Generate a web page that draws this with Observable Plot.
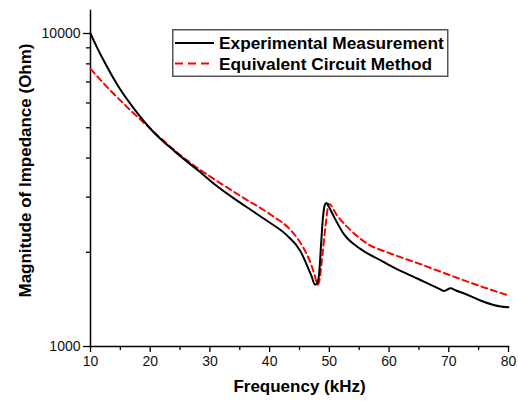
<!DOCTYPE html>
<html><head><meta charset="utf-8">
<script src="https://cdn.jsdelivr.net/npm/d3@7"></script>
<script src="https://cdn.jsdelivr.net/npm/@observablehq/plot@0.6"></script>
<style>
body{margin:0;background:#fff;}
#wrap{position:relative;width:518px;height:401px;font-family:"Liberation Sans",Arial,sans-serif;}
#legend{position:absolute;left:172px;top:29px;}
</style>
</head><body>
<div id="wrap"><div id="chart"></div><div id="legend"></div></div>
<script>
const seriesNames = ["Experimental Measurement", "Equivalent Circuit Method"];
const freqExp = [10, 11, 12.5, 14.75, 17.5, 20.3, 24.2, 28.1, 31, 34, 37, 39.6, 42.9, 45.2, 46.4, 47.0, 47.6, 48.0, 48.3, 48.6, 48.9, 49.2, 49.5, 49.8, 50.8, 52.4, 55.2, 58.6, 60.5, 65, 68.5, 69.2, 70.3, 71.2, 72.5, 75.3, 77.5, 78.7, 80];
const magExp  = [10000, 9100, 8000, 6730, 5680, 4900, 4186, 3641, 3273, 2972, 2720, 2518, 2265, 2010, 1790, 1680, 1575, 1600, 1720, 2100, 2550, 2820, 2875, 2820, 2590, 2290, 2050, 1884, 1800, 1640, 1525, 1505, 1535, 1510, 1480, 1403, 1357, 1342, 1335];
const freqEq = [10, 13.07, 16.1, 20, 24.2, 27, 30.2, 35.7, 40.2, 43.6, 45.7, 46.9, 47.5, 48.06, 48.4, 48.8, 49.4, 49.9, 51.3, 53.6, 56.4, 60, 65, 70, 75, 80];
const magEq  = [7709, 6655, 5830, 4968, 4215, 3825, 3476, 2979, 2636, 2344, 2060, 1840, 1700, 1575, 1650, 1928, 2465, 2857, 2621, 2349, 2128, 1990, 1840, 1695, 1565, 1455];
const xTicks = [10, 20, 30, 40, 50, 60, 70, 80];
const xMinor = [15, 25, 35, 45, 55, 65, 75];
const yTicks = [1000, 10000];
const yMinor = [2000, 3000, 4000, 5000, 6000, 7000, 8000, 9000];

const exp = freqExp.map((f, i) => ({f, m: magExp[i]}));
const eq = freqEq.map((f, i) => ({f, m: magEq[i]}));
const font = '"Liberation Sans", Arial, sans-serif';

const chart = Plot.plot({
  width: 518, height: 401,
  marginLeft: 90, marginRight: 10, marginTop: 10, marginBottom: 55,
  style: {fontFamily: font, fontSize: "14px", color: "#000", background: "#fff"},
  x: {domain: [10, 80]},
  y: {type: "log", domain: [1000, 11844]},
  marks: [
    Plot.axisX({ticks: xMinor, tickSize: 4, tickFormat: () => "", label: null, strokeWidth: 1.3}),
    Plot.axisX({ticks: xTicks, tickSize: 6, tickPadding: 4, tickFormat: d => String(d), label: null, fontSize: 14, strokeWidth: 1.3, fill: "#111"}),
    Plot.axisY({ticks: yMinor, tickSize: 4, tickFormat: () => "", label: null, strokeWidth: 1.3}),
    Plot.axisY({ticks: yTicks, tickSize: 7, tickPadding: 3, tickFormat: d => String(d), label: null, fontSize: 14, strokeWidth: 1.3, fill: "#111"}),
    Plot.frame({anchor: "left", stroke: "#000", strokeWidth: 1.5}),
    Plot.frame({anchor: "bottom", stroke: "#000", strokeWidth: 1.5}),
    Plot.line(eq, {x: "f", y: "m", stroke: "#ff0000", strokeWidth: 2, strokeDasharray: "6,4", curve: "monotone-x"}),
    Plot.line(exp, {x: "f", y: "m", stroke: "#000", strokeWidth: 2, curve: "monotone-x"}),
    Plot.text(["Frequency (kHz)"], {frameAnchor: "bottom", dy: 45, text: d => d, fontWeight: "bold", fontSize: 17, fill: "#000"}),
    Plot.text(["Magnitude of Impedance (Ohm)"], {frameAnchor: "left", textAnchor: "middle", dx: -65, dy: -8, rotate: -90, text: d => d, fontWeight: "bold", fontSize: 17, fill: "#000"})
  ]
});
document.getElementById("chart").appendChild(chart);

const lg = d3.select("#legend").append("svg").attr("width", 278).attr("height", 49)
  .style("font-family", font);
lg.append("rect").attr("x", 0.75).attr("y", 0.75).attr("width", 275).attr("height", 46.5)
  .attr("fill", "#fff").attr("stroke", "#555").attr("stroke-width", 1.5);
const styles = [{stroke: "#000", dash: null}, {stroke: "#ff0000", dash: "8,5"}];
seriesNames.forEach((name, i) => {
  const y = 14 + i * 20.5;
  lg.append("line").attr("x1", 3).attr("x2", 42).attr("y1", y).attr("y2", y)
    .attr("stroke", styles[i].stroke).attr("stroke-width", 2)
    .attr("stroke-dasharray", styles[i].dash);
  lg.append("text").attr("x", 47).attr("y", y).attr("dy", "0.36em")
    .attr("font-size", 17.3).attr("font-weight", "bold").attr("fill", "#000").text(name);
});
</script>
</body></html>
